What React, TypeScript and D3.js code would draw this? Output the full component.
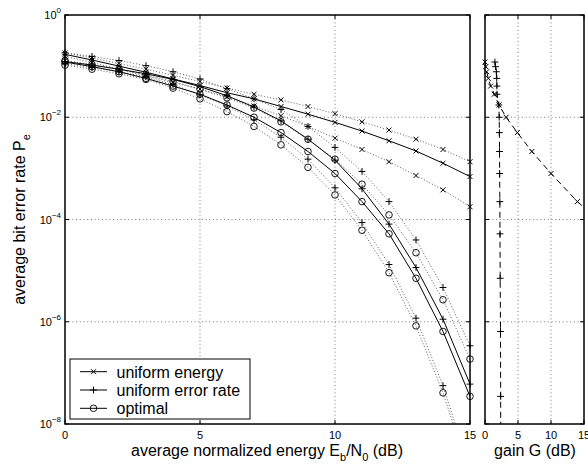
import * as d3 from 'd3';

// Eb/N0 grid (dB)
const ebN0 = [0, 1, 2, 3, 4, 5, 6, 7, 8, 9, 10, 11, 12, 13, 14, 15];

// log10 of the average bit error rate
const uniformEnergy = [-0.77, -0.88, -1.0, -1.12, -1.25, -1.38, -1.52, -1.64, -1.79, -1.94, -2.1, -2.27, -2.46, -2.66, -2.9, -3.16];
const uniformEnergyUpper = [-0.74, -0.84, -0.95, -1.06, -1.18, -1.3, -1.43, -1.55, -1.66, -1.79, -1.93, -2.09, -2.25, -2.43, -2.63, -2.87];
const uniformEnergyLower = [-0.81, -0.93, -1.06, -1.19, -1.32, -1.45, -1.6, -1.78, -1.97, -2.18, -2.41, -2.63, -2.87, -3.14, -3.42, -3.75];

const uniformErrorRate = [-0.91, -0.98, -1.06, -1.15, -1.26, -1.4, -1.58, -1.8, -2.07, -2.43, -2.84, -3.4, -4.09, -4.94, -5.95, -7.22];
const uniformErrorRateUpper = [-0.74, -0.81, -0.89, -0.99, -1.11, -1.25, -1.44, -1.64, -1.85, -2.18, -2.59, -3.06, -3.65, -4.4, -5.33, -6.47];
const uniformErrorRateLower = [-0.95, -1.03, -1.11, -1.21, -1.36, -1.56, -1.78, -2.05, -2.39, -2.82, -3.38, -4.06, -4.88, -5.93, -7.25, -8.9];

const optimal = [-0.92, -1.01, -1.11, -1.24, -1.39, -1.55, -1.76, -2.0, -2.3, -2.67, -3.1, -3.65, -4.28, -5.15, -6.19, -7.46];
const optimalUpper = [-0.89, -0.97, -1.06, -1.17, -1.3, -1.45, -1.62, -1.82, -2.09, -2.43, -2.82, -3.31, -3.91, -4.65, -5.57, -6.73];
const optimalLower = [-0.98, -1.06, -1.15, -1.26, -1.43, -1.64, -1.89, -2.18, -2.54, -2.98, -3.52, -4.21, -5.04, -6.08, -7.39, -9.0];

// gain panel: log10 Pe of each point and the gain G (dB)
const gainPe = [-0.92, -1.01, -1.11, -1.24, -1.39, -1.55, -1.76, -2.0, -2.3, -2.67, -3.1, -3.65, -4.28, -5.15, -6.19, -7.46, -8.8];
const gainUniformErrorRate = [1.5, 1.6, 1.72, 1.78, 1.8, 1.82, 2.1, 2.15, 2.18, 2.2, 2.22, 2.25, 2.27, 2.3, 2.35, 2.37, 2.4];
const gainUniformEnergy = [0, 0.12, 0.25, 0.5, 0.86, 1.4, 2.12, 3.2, 4.9, 7.1, 10.0, 14.0, 19.5];

const xTicks = [0, 5, 10, 15];
const gainTicks = [0, 5, 10, 15];
const yTickExps = [0, -2, -4, -6, -8];
const legendLabels = ['uniform energy', 'uniform error rate', 'optimal'];

const FONT = 'Liberation Sans, Arial, Helvetica, sans-serif';
const main = { left: 65, right: 470, top: 15, bottom: 424 };
const side = { left: 485, right: 584 };

type Shape = 'x' | '+' | 'o';

const Marker = ({ shape, cx, cy }: { shape: Shape; cx: number; cy: number }) => {
  if (shape === 'o') return <circle cx={cx} cy={cy} r={3.3} fill="none" stroke="#000" strokeWidth={0.9} />;
  const s = shape === 'x' ? 2.5 : 3.4;
  const d = shape === 'x' ? `M${cx - s},${cy - s}L${cx + s},${cy + s}M${cx - s},${cy + s}L${cx + s},${cy - s}` : `M${cx - s},${cy}L${cx + s},${cy}M${cx},${cy - s}L${cx},${cy + s}`;
  return <path d={d} stroke="#000" strokeWidth={1} fill="none" />;
};

export default function App() {
  const x = d3.scaleLinear().domain([0, 15]).range([main.left, main.right]);
  const xg = d3.scaleLinear().domain([0, 15]).range([side.left, side.right]);
  const y = d3.scaleLog().domain([1e-8, 1]).range([main.bottom, main.top]);
  const pe = (v: number) => Math.pow(10, v);

  const curves: { values: number[]; shape: Shape; dotted: boolean }[] = [
    { values: uniformEnergyUpper, shape: 'x', dotted: true },
    { values: uniformEnergyLower, shape: 'x', dotted: true },
    { values: uniformErrorRateUpper, shape: '+', dotted: true },
    { values: uniformErrorRateLower, shape: '+', dotted: true },
    { values: optimalUpper, shape: 'o', dotted: true },
    { values: optimalLower, shape: 'o', dotted: true },
    { values: uniformEnergy, shape: 'x', dotted: false },
    { values: uniformErrorRate, shape: '+', dotted: false },
    { values: optimal, shape: 'o', dotted: false }
  ];

  const line = d3
    .line<number>()
    .x((_, i) => x(ebN0[i]))
    .y(v => y(pe(v)));

  const gainLine = (gains: number[]) =>
    d3
      .line<number>()
      .x(g => xg(g))
      .y((_, i) => y(pe(gainPe[i])))(gains);

  const inY = (v: number) => v >= -8 && v <= 0;

  const yTickLabel = (e: number) => (
    <text key={e} x={61} y={y(pe(e)) + 4} textAnchor="end" fontSize={11} fontFamily={FONT}>
      <tspan>10</tspan>
      <tspan dy={-6} fontSize={8}>{e === 0 ? '0' : `\u2212${-e}`}</tspan>
    </text>
  );

  const panel = (xs: d3.ScaleLinear<number, number>, ticks: number[], left: number, right: number) => (
    <g>
      {ticks.slice(1, -1).map(t => (
        <line key={`gx${t}`} x1={xs(t)} x2={xs(t)} y1={main.top} y2={main.bottom} stroke="#555" strokeWidth={0.8} strokeDasharray="1 2.7" />
      ))}
      {yTickExps.slice(1, -1).map(e => (
        <line key={`gy${e}`} x1={left} x2={right} y1={y(pe(e))} y2={y(pe(e))} stroke="#555" strokeWidth={0.8} strokeDasharray="1 2.7" />
      ))}
      {ticks.map(t => (
        <g key={`tx${t}`}>
          <line x1={xs(t)} x2={xs(t)} y1={main.bottom} y2={main.bottom - 4} stroke="#000" />
          <line x1={xs(t)} x2={xs(t)} y1={main.top} y2={main.top + 4} stroke="#000" />
          <text x={xs(t)} y={439} textAnchor="middle" fontSize={11} fontFamily={FONT}>
            {t}
          </text>
        </g>
      ))}
      {yTickExps.map(e => (
        <g key={`ty${e}`}>
          <line x1={left} x2={left + 4} y1={y(pe(e))} y2={y(pe(e))} stroke="#000" />
          <line x1={right} x2={right - 4} y1={y(pe(e))} y2={y(pe(e))} stroke="#000" />
        </g>
      ))}
    </g>
  );

  return (
    <svg width={588} height={475} style={{ position: 'absolute', left: 0, top: 0, background: '#fff' }}>
      <defs>
        <clipPath id="clip-main">
          <rect x={main.left} y={main.top} width={main.right - main.left} height={main.bottom - main.top} />
        </clipPath>
        <clipPath id="clip-side">
          <rect x={side.left} y={main.top} width={side.right - side.left} height={main.bottom - main.top} />
        </clipPath>
      </defs>
      <rect width={588} height={475} fill="#fff" />

      {/* main panel */}
      {panel(x, xTicks, main.left, main.right)}
      <g clipPath="url(#clip-main)">
        {curves.map((c, k) => (
          <path
            key={k}
            d={line(c.values) ?? ''}
            fill="none"
            stroke={c.dotted ? '#333' : '#000'}
            strokeWidth={c.dotted ? 0.8 : 1}
            strokeDasharray={c.dotted ? '1 2' : undefined}
          />
        ))}
      </g>
      {curves.map((c, k) => (
        <g key={`m${k}`}>{c.values.map((v, i) => (inY(v) ? <Marker key={i} shape={c.shape} cx={x(ebN0[i])} cy={y(pe(v))} /> : null))}</g>
      ))}
      <rect x={main.left} y={main.top} width={main.right - main.left} height={main.bottom - main.top} fill="none" stroke="#000" strokeWidth={1.5} />
      {yTickExps.map(yTickLabel)}

      {/* legend */}
      <rect x={70} y={359} width={180} height={60} fill="#fff" stroke="#000" strokeWidth={1} />
      {legendLabels.map((label, i) => {
        const ly = 371.7 + i * 18.3;
        const shape: Shape = i === 0 ? 'x' : i === 1 ? '+' : 'o';
        return (
          <g key={label}>
            <line x1={80} x2={107} y1={ly} y2={ly} stroke="#000" />
            <Marker shape={shape} cx={93.5} cy={ly} />
            <text x={116.5} y={ly + 6} fontSize={16} fontFamily={FONT}>
              {label}
            </text>
          </g>
        );
      })}

      {/* gain panel */}
      {panel(xg, gainTicks, side.left, side.right)}
      <g clipPath="url(#clip-side)">
        <path d={gainLine(gainUniformEnergy) ?? ''} fill="none" stroke="#000" strokeWidth={1} strokeDasharray="6 4" />
        <path d={gainLine(gainUniformErrorRate) ?? ''} fill="none" stroke="#000" strokeWidth={1} strokeDasharray="6 4" />
      </g>
      {gainUniformEnergy.map((g, i) => (g <= 15 && inY(gainPe[i]) ? <Marker key={`ge${i}`} shape="x" cx={xg(g)} cy={y(pe(gainPe[i]))} /> : null))}
      {gainUniformErrorRate.map((g, i) => (inY(gainPe[i]) ? <Marker key={`gr${i}`} shape="+" cx={xg(g)} cy={y(pe(gainPe[i]))} /> : null))}
      <rect x={side.left} y={main.top} width={side.right - side.left} height={main.bottom - main.top} fill="none" stroke="#000" strokeWidth={1.5} />

      {/* axis labels */}
      <text x={267} y={456} textAnchor="middle" fontSize={16} fontFamily={FONT}>
        average normalized energy E<tspan dy={5} fontSize={11}>b</tspan>
        <tspan dy={-5}>/N</tspan>
        <tspan dy={5} fontSize={11}>0</tspan>
        <tspan dy={-5}> (dB)</tspan>
      </text>
      <text x={535} y={456} textAnchor="middle" fontSize={16} fontFamily={FONT}>
        gain G (dB)
      </text>
      <text transform={`translate(25,${(main.top + main.bottom) / 2}) rotate(-90)`} textAnchor="middle" fontSize={16} fontFamily={FONT}>
        average bit error rate P<tspan dy={5} fontSize={11}>e</tspan>
      </text>
    </svg>
  );
}
